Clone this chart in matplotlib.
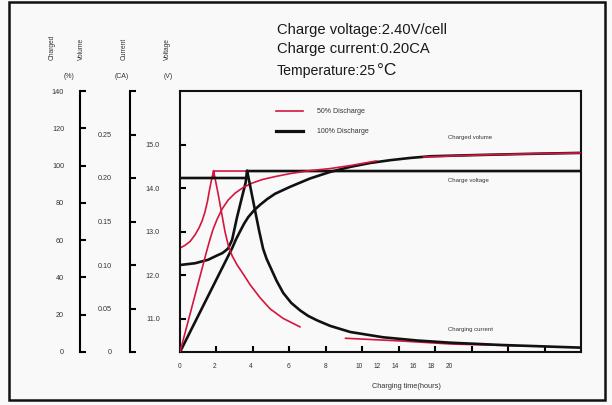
import matplotlib
matplotlib.use('Agg')
import matplotlib.pyplot as plt
from matplotlib.lines import Line2D
from matplotlib.patches import Rectangle

plt.rcParams['font.family'] = ['Liberation Sans', 'DejaVu Sans']

RED = '#d4163e'
BLACK = '#111111'
TXT = '#333333'
BG = '#f9f9f9'

# ---------------- data (hours / V / % / CA) ----------------
volt100_t = [0, 0.82, 1.54, 2.09, 2.31, 2.47, 2.64, 2.86, 3.13, 3.46, 3.60, 3.68, 22.0]
volt100_v = [12.24, 12.28, 12.36, 12.47, 12.51, 12.56, 12.62, 12.82, 13.34, 13.90, 14.13, 14.40, 14.40]

volt50_t = [0, 0.27, 0.55, 0.82, 1.04, 1.21, 1.37, 1.51, 1.62, 1.73, 1.84, 22.0]
volt50_v = [12.63, 12.69, 12.78, 12.93, 13.09, 13.25, 13.46, 13.71, 13.97, 14.20, 14.40, 14.40]

vol100_t = [0, 2.86, 3.08, 3.30, 3.52, 3.74, 4.07, 4.40, 4.78, 5.22, 6.04, 7.14, 8.24, 9.34,
            10.44, 11.54, 12.64, 13.74, 16.48, 19.23, 22.0]
vol100_v = [0, 55.7, 60.6, 64.8, 68.9, 72.3, 76.1, 79.0, 82.0, 84.9, 88.6, 93.1, 96.6, 99.3,
            101.4, 102.9, 104.1, 105.0, 105.7, 106.3, 106.8]

vol50_t = [0, 1.48, 1.65, 1.81, 2.03, 2.31, 2.64, 3.02, 3.46, 3.96, 4.51, 5.22, 6.04, 7.14,
           8.24, 9.34, 10.77]
vol50_v = [0, 54.7, 60.6, 65.7, 71.1, 76.7, 81.5, 85.2, 88.2, 90.6, 92.5, 94.1, 95.7, 97.3,
           98.4, 100.0, 102.5]
vol50b_t = [13.35, 16.48, 19.23, 22.0]
vol50b_v = [104.6, 105.7, 106.3, 106.8]

cur100_t = [0, 3.68, 3.68, 3.90, 4.12, 4.34, 4.56, 4.75, 4.95, 5.30, 5.66, 6.10, 6.59, 7.03,
            7.53, 8.24, 9.34, 11.15, 13.02, 14.84, 17.58, 22.0]
cur100_v = [0.20, 0.20, 0.2085, 0.1855, 0.1624, 0.1394, 0.1186, 0.1071, 0.0979, 0.0818,
            0.0680, 0.0565, 0.0478, 0.0415, 0.0363, 0.0300, 0.0230, 0.0169, 0.0132,
            0.0107, 0.0081, 0.0050]

cur50_t = [0, 1.84, 1.84, 2.09, 2.31, 2.47, 2.64, 2.86, 3.13, 3.46, 3.85, 4.40, 4.95, 5.66, 6.59]
cur50_v = [0.20, 0.20, 0.2085, 0.1820, 0.1567, 0.1382, 0.1233, 0.1106, 0.1002, 0.0899,
           0.0772, 0.0622, 0.0495, 0.0386, 0.0288]
cur50b_t = [9.07, 12.09, 14.84, 18.96]
cur50b_v = [0.0158, 0.0127, 0.0092, 0.0069]

x_tick_marks = [2, 4, 6, 8, 10, 12, 14, 16, 18, 20]
x_label_pos = [0, 1.87, 3.86, 5.95, 7.97, 9.84, 10.82, 11.81, 12.8, 13.77, 14.75]
x_labels = ['0', '2', '4', '6', '8', '10', '12', '14', '16', '18', '20']

volt_ticks = [11, 12, 13, 14, 15]
volt_labels = ['11.0', '12.0', '13.0', '14.0', '15.0']
vol_ticks = [0, 20, 40, 60, 80, 100, 120, 140]
vol_labels = ['0', '20', '40', '60', '80', '100', '120', '140']
cur_ticks = [0, 0.05, 0.10, 0.15, 0.20, 0.25, 0.30]
cur_labels = ['0', '0.05', '0.10', '0.15', '0.20', '0.25', '']

# ---------------- figure ----------------
W, H = 612, 405
fig = plt.figure(figsize=(W / 100, H / 100), dpi=100, facecolor=BG)


def fx(px):
    return px / W


def fy(py):
    return 1 - py / H


L, R, T, B = 180, 581, 91, 352
ax = fig.add_axes([fx(L), fy(B), (R - L) / W, (B - T) / H])
ax.set_facecolor(BG)
ax.set_xlim(0, 22)
ax.set_ylim(10.24, 16.24)
for s in ax.spines.values():
    s.set_linewidth(1.5)
    s.set_color(BLACK)

ax.set_yticks(volt_ticks, labels=volt_labels)
ax.tick_params(axis='y', direction='in', length=4.3, width=1.5, pad=14.5,
               labelsize=5.2, labelcolor=TXT, right=False)
ax.set_xticks(x_label_pos, labels=x_labels)
ax.set_xticks(x_tick_marks, minor=True)
ax.tick_params(axis='x', which='major', length=0, pad=8, labelsize=4.8, labelcolor=TXT)
ax.tick_params(axis='x', which='minor', direction='in', length=4, width=1.5)

# volume axis
axv = ax.twinx()
axv.set_ylim(0, 140)
for k in ['right', 'top', 'bottom']:
    axv.spines[k].set_visible(False)
axv.spines['left'].set_visible(True)
axv.spines['left'].set_position(('axes', (80 - 180) / (R - L)))
axv.spines['left'].set_linewidth(1.5)
axv.yaxis.set_ticks_position('left')
axv.set_yticks(vol_ticks, labels=vol_labels)
axv.tick_params(axis='y', direction='in', length=4.3, width=1.5, pad=11.5,
                labelsize=5.2, labelcolor=TXT)

# current axis
axc = ax.twinx()
axc.set_ylim(0, 0.30)
for k in ['right', 'top', 'bottom']:
    axc.spines[k].set_visible(False)
axc.spines['left'].set_visible(True)
axc.spines['left'].set_position(('axes', (130 - 180) / (R - L)))
axc.spines['left'].set_linewidth(1.5)
axc.yaxis.set_ticks_position('left')
axc.set_yticks(cur_ticks, labels=cur_labels)
axc.tick_params(axis='y', direction='in', length=4.3, width=1.5, pad=13,
                labelsize=5.2, labelcolor=TXT)

# curves
lkw = dict(solid_joinstyle='round', solid_capstyle='round')
ax.plot(volt50_t, volt50_v, color=RED, lw=1.2, zorder=2, **lkw)
ax.plot(volt100_t, volt100_v, color=BLACK, lw=1.9, zorder=3, **lkw)

axv.plot(vol100_t, vol100_v, color=BLACK, lw=1.9, zorder=2, **lkw)
axv.plot(vol50_t, vol50_v, color=RED, lw=1.2, zorder=3, **lkw)
axv.plot(vol50b_t, vol50b_v, color=RED, lw=1.2, zorder=3, **lkw)

axc.plot(cur50_t, cur50_v, color=RED, lw=1.2, zorder=2, **lkw)
axc.plot(cur50b_t, cur50b_v, color=RED, lw=1.2, zorder=2, **lkw)
axc.plot(cur100_t, cur100_v, color=BLACK, lw=1.9, zorder=3, **lkw)

# legend
handles = [Line2D([], [], color=RED, lw=1.2), Line2D([], [], color=BLACK, lw=2.3)]
leg = axc.legend(handles, ['50% Discharge', '100% Discharge'], loc='upper left',
                 bbox_to_anchor=(fx(276), fy(108)), bbox_transform=fig.transFigure,
                 frameon=False, borderpad=0, borderaxespad=0, fontsize=5,
                 handlelength=3.9, handletextpad=2.0, labelspacing=1.9)
for t in leg.get_texts():
    t.set_color(TXT)

# annotations
small = dict(fontsize=4.3, color=TXT, va='center', ha='left')
fig.text(fx(448), fy(137), 'Charged volume', **small)
fig.text(fx(448), fy(181), 'Charge voltage', **small)
fig.text(fx(448), fy(329), 'Charging current', **small)
fig.text(fx(372), fy(387), 'Charging time(hours)', fontsize=5.3, color=TXT,
         va='center', ha='left')

# axis titles
for x, s in [(52, 'Charged'), (81, 'Volume'), (124, 'Current'), (167, 'Voltage')]:
    fig.text(fx(x), fy(60), s, rotation=90, fontsize=4.8, color=TXT,
             ha='center', va='bottom')
for x, s in [(69, '(%)'), (122, '(CA)'), (168, '(V)')]:
    fig.text(fx(x), fy(77), s, fontsize=5, color=TXT, ha='center', va='center')

# header
hdr = dict(color='#1a1a1a', ha='left', va='baseline')
fig.text(fx(277), fy(34), 'Charge voltage:2.40V/cell', fontsize=10.6, **hdr)
fig.text(fx(277), fy(53.5), 'Charge current:0.20CA', fontsize=10.6, **hdr)
t3 = fig.text(fx(277), fy(74.5), 'Temperature:25', fontsize=10.2, **hdr)
renderer = fig.canvas.get_renderer()
x_end = t3.get_window_extent(renderer).x1
fig.text((x_end + 0.4) / W, fy(75), '°C', fontsize=12.5, **hdr)

# outer frame
fig.add_artist(Rectangle((fx(9), fy(400)), fx(605) - fx(9), fy(2) - fy(400),
                         transform=fig.transFigure, fill=False, lw=1.8,
                         edgecolor=BLACK))

fig.savefig('out.png', dpi=100, facecolor=BG)
